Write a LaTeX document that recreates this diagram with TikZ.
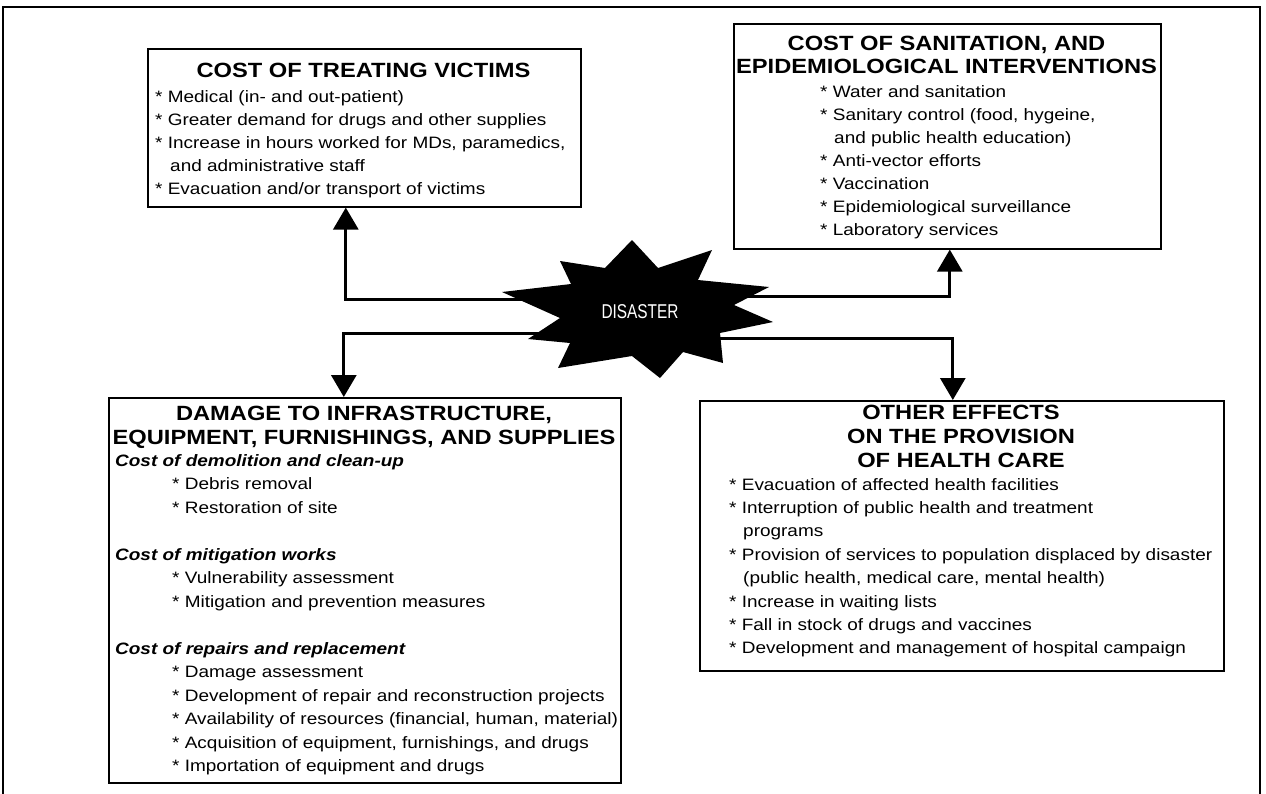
\documentclass[tikz,border=0pt]{standalone}
\usepackage{fontspec}
\setmainfont{Liberation Sans}[FakeStretch=1.15]
\newfontfamily\disfont{Liberation Sans}[FakeStretch=0.77]
\usetikzlibrary{arrows.meta}
\begin{document}
\begin{tikzpicture}[x=1pt,y=-1pt,
  boxst/.style={draw, line width=1.6pt, inner sep=0pt, anchor=north west},
  conn/.style={line width=3pt, -{Triangle[width=25pt,length=22pt]}},
  ttl/.style={font=\fontsize{20.6}{24}\selectfont\bfseries, anchor=base, inner sep=0pt},
  itm/.style={font=\fontsize{16.5}{20}\selectfont, anchor=base west, inner sep=0pt},
  hdr/.style={font=\fontsize{16.5}{20}\selectfont\bfseries\itshape, anchor=base west, inner sep=0pt}]
\useasboundingbox (0,0) rectangle (1266,793);
% outer frame
\draw[line width=1.3pt] (3,800) -- (3,7) -- (1260,7) -- (1260,800);
% boxes
\node[boxst, minimum width=433pt, minimum height=158pt] (box1) at (147,48) {};
\node[boxst, minimum width=427pt, minimum height=225pt] (box2) at (733,23) {};
\node[boxst, minimum width=512pt, minimum height=385pt] (box3) at (108,397) {};
\node[boxst, minimum width=524pt, minimum height=270pt] (box4) at (699,400) {};
% connector start points inside the starburst
\coordinate (s1) at (560,299);
\coordinate (s2) at (730,296);
\coordinate (s3) at (575,333);
\coordinate (s4) at (700,338);
\draw[conn] (s1) -| ([xshift=-18.5pt]box1.south);
\draw[conn] (s2) -| ([xshift=2.5pt]box2.south);
\draw[conn] (s3) -| ([xshift=-21pt]box3.north);
\draw[conn] (s4) -| ([xshift=-9pt]box4.north);
% starburst
\fill (502,292) -- (571,284) -- (560,261) -- (605,268) -- (632,240) -- (658,268)
  -- (712,250) -- (698,280) -- (769,287) -- (734,305) -- (773,322) -- (720,333)
  -- (723,363) -- (683,352) -- (660,378) -- (632,356) -- (558,368) -- (570,343)
  -- (528,339) -- (560,318) -- cycle;
\node[text=white, font=\disfont\fontsize{20}{24}\selectfont, inner sep=0pt] (dis) at (640,312) {DISASTER};
% box 1 text
\node[ttl] (b1t) at (363.5,77) {COST OF TREATING VICTIMS};
\node[itm] (b1a) at (155,102) {* Medical (in- and out-patient)};
\node[itm] (b1b) at (155,125) {* Greater demand for drugs and other supplies};
\node[itm] (b1c) at (155,148) {* Increase in hours worked for MDs, paramedics,};
\node[itm] (b1d) at (170,171) {and administrative staff};
\node[itm] (b1e) at (155,194) {* Evacuation and/or transport of victims};
% box 2 text
\node[ttl] (b2t) at (946.5,50) {COST OF SANITATION, AND};
\node[ttl] (b2u) at (946.5,73) {EPIDEMIOLOGICAL INTERVENTIONS};
\node[itm] (b2a) at (820,97) {* Water and sanitation};
\node[itm] (b2b) at (820,120) {* Sanitary control (food, hygeine,};
\node[itm] (b2c) at (834,143) {and public health education)};
\node[itm] (b2d) at (820,166) {* Anti-vector efforts};
\node[itm] (b2e) at (820,189) {* Vaccination};
\node[itm] (b2f) at (820,212) {* Epidemiological surveillance};
\node[itm] (b2g) at (820,235) {* Laboratory services};
% box 3 text
\node[ttl] (b3t) at (364,420) {DAMAGE TO INFRASTRUCTURE,};
\node[ttl] (b3u) at (364,444) {EQUIPMENT, FURNISHINGS, AND SUPPLIES};
\node[hdr] (b3h1) at (115,466) {Cost of demolition and clean-up};
\node[itm] (b3a) at (172,489.5) {* Debris removal};
\node[itm] (b3b) at (172,513) {* Restoration of site};
\node[hdr] (b3h2) at (115,560) {Cost of mitigation works};
\node[itm] (b3c) at (172,583.5) {* Vulnerability assessment};
\node[itm] (b3d) at (172,607) {* Mitigation and prevention measures};
\node[hdr] (b3h3) at (115,654) {Cost of repairs and replacement};
\node[itm] (b3e) at (172,677.5) {* Damage assessment};
\node[itm] (b3f) at (172,701) {* Development of repair and reconstruction projects};
\node[itm] (b3g) at (172,724.5) {* Availability of resources (financial, human, material)};
\node[itm] (b3h) at (172,748) {* Acquisition of equipment, furnishings, and drugs};
\node[itm] (b3i) at (172,771.5) {* Importation of equipment and drugs};
% box 4 text
\node[ttl] (b4t) at (961,419) {OTHER EFFECTS};
\node[ttl] (b4u) at (961,443) {ON THE PROVISION};
\node[ttl] (b4v) at (961,467) {OF HEALTH CARE};
\node[itm] (b4a) at (729,490) {* Evacuation of affected health facilities};
\node[itm] (b4b) at (729,513.4) {* Interruption of public health and treatment};
\node[itm] (b4c) at (743,536.8) {programs};
\node[itm] (b4d) at (729,560.2) {* Provision of services to population displaced by disaster};
\node[itm] (b4e) at (743,583.6) {(public health, medical care, mental health)};
\node[itm] (b4f) at (729,607) {* Increase in waiting lists};
\node[itm] (b4g) at (729,630.4) {* Fall in stock of drugs and vaccines};
\node[itm] (b4h) at (729,653.8) {* Development and management of hospital campaign};
\end{tikzpicture}
\end{document}
